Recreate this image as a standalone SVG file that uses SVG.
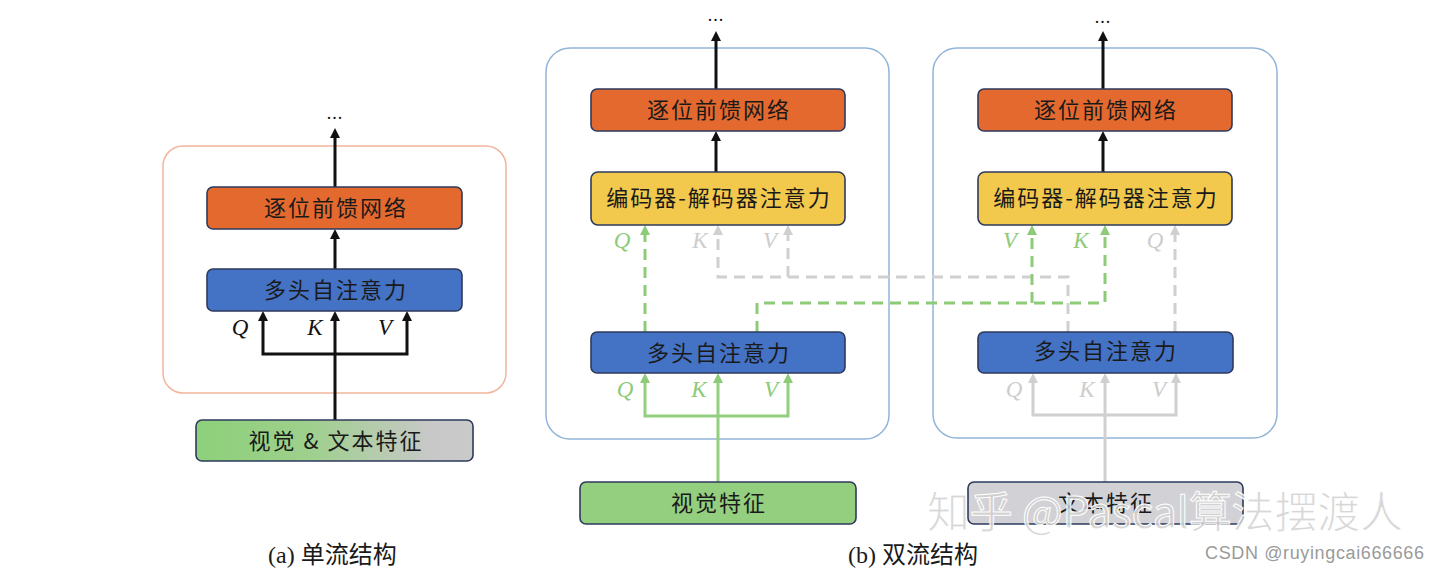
<svg xmlns="http://www.w3.org/2000/svg" width="1440" height="572" viewBox="0 0 1440 572">
<style>
.node{stroke:#2E3A5C;stroke-width:1.6}
.ffn{fill:#E4692F}
.mha{fill:#4472C4}
.eda{fill:#F2C94C}
.vis{fill:#93CF7E}
.txt{fill:#D2D2D6}
.frameA{fill:none;stroke:#F1B59B;stroke-width:1.5}
.frameB{fill:none;stroke:#92B4D8;stroke-width:1.5}
.lbl{font-family:"Noto Sans CJK SC","Noto Sans",sans-serif;font-size:22px;fill:#1a1a1a;text-anchor:middle;letter-spacing:2px}
.qkv{font-family:"Liberation Serif",serif;font-style:italic;font-size:23px;text-anchor:middle}
.k{fill:#111}
.g{fill:#8DCB79}
.y{fill:#CDCDCD}
.blk{fill:none;stroke:#111;stroke-width:3}
.gs{fill:none;stroke:#92CF7E;stroke-width:3}
.ys{fill:none;stroke:#D0D0D0;stroke-width:3}
.gd{fill:none;stroke:#8DCB79;stroke-width:3;stroke-dasharray:11 7}
.yd{fill:none;stroke:#D0D0D0;stroke-width:3;stroke-dasharray:11 7}
.cap{font-family:"Liberation Serif","Noto Sans CJK SC",serif;font-size:24px;fill:#1a1a1a}
.dots{font-family:"Liberation Serif",serif;font-size:18px;fill:#111;text-anchor:middle;letter-spacing:1px}
</style>
<defs>
<marker id="ak" viewBox="0 0 10 10" refX="1" refY="5" markerWidth="10" markerHeight="10" markerUnits="userSpaceOnUse" orient="auto-start-reverse"><path d="M0,0 L10,5 L0,10 z" fill="#111"/></marker>
<marker id="ag" viewBox="0 0 10 10" refX="1" refY="5" markerWidth="10" markerHeight="10" markerUnits="userSpaceOnUse" orient="auto-start-reverse"><path d="M0,0 L10,5 L0,10 z" fill="#8DCB79"/></marker>
<marker id="ay" viewBox="0 0 10 10" refX="1" refY="5" markerWidth="10" markerHeight="10" markerUnits="userSpaceOnUse" orient="auto-start-reverse"><path d="M0,0 L10,5 L0,10 z" fill="#D0D0D0"/></marker>
<linearGradient id="mix" x1="0" y1="0" x2="1" y2="0">
<stop offset="0" stop-color="#8DD07A"/>
<stop offset="0.4" stop-color="#9ED08C"/>
<stop offset="0.85" stop-color="#C8C8C8"/>
<stop offset="1" stop-color="#CACACA"/>
</linearGradient>
</defs>

<!-- frames -->
<g id="frame-a"><rect class="frameA" x="163" y="146" width="343" height="247" rx="20"/></g>
<g id="frame-b1"><rect class="frameB" x="546" y="48" width="343" height="391" rx="24"/></g>
<g id="frame-b2"><rect class="frameB" x="933" y="48" width="344" height="390" rx="24"/></g>

<!-- connectors -->
<g id="connectors">
<!-- (a) -->
<path class="blk" d="M335,187 V137" marker-end="url(#ak)"/>
<path class="blk" d="M335,269 V238" marker-end="url(#ak)"/>
<path class="blk" d="M263,320 V354 H407 V320" marker-start="url(#ak)" marker-end="url(#ak)"/>
<path class="blk" d="M335,420 V320" marker-end="url(#ak)"/>
<!-- (b) left -->
<path class="blk" d="M716,89 V40" marker-end="url(#ak)"/>
<path class="blk" d="M716,172 V140" marker-end="url(#ak)"/>
<path class="gs" d="M645,382 V416 H788 V382" marker-start="url(#ag)" marker-end="url(#ag)"/>
<path class="gs" d="M718,482 V382" marker-end="url(#ag)"/>
<!-- (b) right -->
<path class="blk" d="M1103,89 V40" marker-end="url(#ak)"/>
<path class="blk" d="M1103,172 V140" marker-end="url(#ak)"/>
<path class="ys" d="M1033,382 V415 H1176 V382" marker-start="url(#ay)" marker-end="url(#ay)"/>
<path class="ys" d="M1105,482 V382" marker-end="url(#ay)"/>
<!-- cross connections gray -->
<path class="yd" d="M1068,332 V277 H718 V234" marker-end="url(#ay)"/>
<path class="yd" d="M788,277 V234" marker-end="url(#ay)"/>
<path class="yd" d="M1175,332 V234" marker-end="url(#ay)"/>
<!-- cross connections green -->
<path class="gd" d="M645,332 V234" marker-end="url(#ag)"/>
<path class="gd" d="M757,332 V303 H1105 V234" marker-end="url(#ag)"/>
<path class="gd" d="M1032,303 V234" marker-end="url(#ag)"/>
</g>

<!-- labels Q K V -->
<g id="qkv-labels">
<text class="qkv k" x="240" y="335">Q</text>
<text class="qkv k" x="315" y="335">K</text>
<text class="qkv k" x="385" y="335">V</text>
<text class="qkv g" x="622" y="248">Q</text>
<text class="qkv y" x="700" y="248">K</text>
<text class="qkv y" x="770" y="248">V</text>
<text class="qkv g" x="625" y="397">Q</text>
<text class="qkv g" x="699" y="397">K</text>
<text class="qkv g" x="771" y="397">V</text>
<text class="qkv g" x="1010" y="248">V</text>
<text class="qkv g" x="1081" y="248">K</text>
<text class="qkv y" x="1155" y="248">Q</text>
<text class="qkv y" x="1014" y="397">Q</text>
<text class="qkv y" x="1087" y="397">K</text>
<text class="qkv y" x="1159" y="397">V</text>
<text class="dots" x="335" y="119">...</text>
<text class="dots" x="716" y="21">...</text>
<text class="dots" x="1103" y="23">...</text>
</g>

<!-- (a) nodes -->
<g id="a-ffn"><rect class="node ffn" x="207" y="187" width="255" height="42" rx="6"/><text class="lbl" x="336" y="216">逐位前馈网络</text></g>
<g id="a-mha"><rect class="node mha" x="207" y="269" width="255" height="42" rx="6"/><text class="lbl" x="336" y="298">多头自注意力</text></g>
<g id="a-feat"><rect class="node" fill="url(#mix)" x="196" y="420" width="277" height="41" rx="6"/><text class="lbl" x="336" y="449">视觉 &amp; 文本特征</text></g>

<!-- (b) left nodes -->
<g id="b1-ffn"><rect class="node ffn" x="591" y="89" width="254" height="42" rx="6"/><text class="lbl" x="719" y="118">逐位前馈网络</text></g>
<g id="b1-eda"><rect class="node eda" x="591" y="172" width="254" height="53" rx="7"/><text class="lbl" x="719" y="206">编码器-解码器注意力</text></g>
<g id="b1-mha"><rect class="node mha" x="591" y="332" width="254" height="41" rx="6"/><text class="lbl" x="719" y="361">多头自注意力</text></g>
<g id="b1-vis"><rect class="node vis" x="580" y="482" width="276" height="42" rx="6"/><text class="lbl" x="719" y="511">视觉特征</text></g>

<!-- (b) right nodes -->
<g id="b2-ffn"><rect class="node ffn" x="978" y="89" width="254" height="42" rx="6"/><text class="lbl" x="1106" y="118">逐位前馈网络</text></g>
<g id="b2-eda"><rect class="node eda" x="978" y="172" width="254" height="53" rx="7"/><text class="lbl" x="1106" y="206">编码器-解码器注意力</text></g>
<g id="b2-mha"><rect class="node mha" x="978" y="332" width="255" height="41" rx="6"/><text class="lbl" x="1106" y="359">多头自注意力</text></g>
<g id="b2-txt"><rect class="node txt" x="968" y="482" width="275" height="42" rx="6"/><text class="lbl" x="1106" y="511">文本特征</text></g>

<!-- captions -->
<g id="captions">
<text class="cap" x="268" y="563">(a) 单流结构</text>
<text class="cap" x="848" y="563">(b) 双流结构</text>
</g>

<!-- watermarks -->
<g id="watermarks">
<text x="927" y="528" font-family="Noto Sans CJK SC, Noto Sans, sans-serif" font-size="43" fill="#D0D0D0" fill-opacity="0.85" stroke="#FFFFFF" stroke-width="1" textLength="476">知乎 @Pascal算法摆渡人</text>
<text x="1205" y="559" font-family="Liberation Sans, Arial, sans-serif" font-size="18" fill="#9A9A9A" textLength="219">CSDN @ruyingcai666666</text>
</g>
</svg>
